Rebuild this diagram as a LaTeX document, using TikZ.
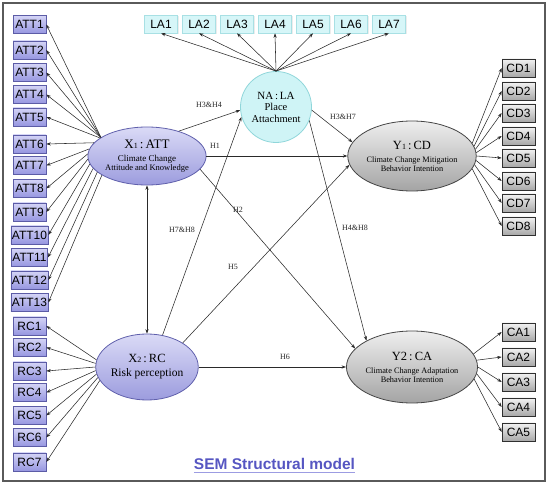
\documentclass[tikz,border=0pt]{standalone}
\usepackage{fontspec}
\setmainfont{Liberation Serif}
\setsansfont{Liberation Sans}
\usetikzlibrary{shapes.geometric,arrows.meta,shadows}
\definecolor{linec}{HTML}{2A2A2A}
\definecolor{attt}{HTML}{D4D4F6}
\definecolor{attbot}{HTML}{9696E0}
\definecolor{attb}{HTML}{5C5CA6}
\definecolor{laf}{HTML}{D6F6F8}
\definecolor{lab}{HTML}{A8E0E4}
\definecolor{cdt}{HTML}{F2F2F2}
\definecolor{cdbot}{HTML}{A8A8A8}
\definecolor{cdb}{HTML}{303030}
\definecolor{latpt}{HTML}{DADAF6}
\definecolor{latpbot}{HTML}{9C9CDE}
\definecolor{latpb}{HTML}{6060AC}
\definecolor{latgt}{HTML}{EEEEEE}
\definecolor{latgbot}{HTML}{A4A4A4}
\definecolor{latgb}{HTML}{454545}
\definecolor{naf}{HTML}{CFF4F6}
\definecolor{nab}{HTML}{90D6DA}
\definecolor{titlec}{HTML}{5656C2}
\definecolor{titleu}{HTML}{9C9CE2}
\definecolor{framec}{HTML}{5A5A5A}
\begin{document}
\begin{tikzpicture}[x=1pt,y=-1pt,
  boxbase/.style={minimum width=33pt, minimum height=18pt, inner sep=1pt, line width=0.6pt,
    font=\sffamily\fontsize{12}{12}\selectfont},
  attbox/.style={boxbase, draw=attb, top color=attt, bottom color=attbot},
  labox/.style={boxbase, draw=lab, fill=laf, drop shadow={opacity=0.15, shadow xshift=1pt, shadow yshift=-1pt}},
  cdbox/.style={boxbase, draw=cdb, top color=cdt, bottom color=cdbot},
  lat/.style={ellipse, inner sep=0pt, line width=0.8pt, align=center, font=\fontsize{9}{10}\selectfont},
  purlat/.style={lat, draw=latpb, top color=latpt, bottom color=latpbot},
  greylat/.style={lat, draw=latgb, top color=latgt, bottom color=latgbot},
  ar/.style={-{Stealth[length=4.5pt,width=3.2pt]}, draw=linec, line width=0.55pt},
  hlab/.style={font=\fontsize{8}{8}\selectfont, inner sep=0.5pt, text=black!85},
  frame/.style={draw=framec, line width=1.1pt}
]
\useasboundingbox (0,0) rectangle (550,484);
\draw[frame] (3,3) rectangle (545,481);

% latent variables
\node[purlat, minimum width=104pt, minimum height=58pt] (X1) at (147,156)
  {{\fontsize{13}{13}\selectfont X{\fontsize{8}{8}\selectfont 1}\,:\,ATT}\\[3pt]
   Climate Change\\[-1pt]{\fontsize{8.5}{9}\selectfont Attitude and Knowledge}};
\node[purlat, minimum width=100pt, minimum height=66pt] (X2) at (147,367)
  {{\fontsize{12.5}{13}\selectfont X{\fontsize{8}{8}\selectfont 2}\,:\,RC}\\[4pt]
   {\fontsize{11.5}{12}\selectfont Risk perception}};
\node[greylat, minimum width=100pt, minimum height=70pt] (Y1) at (412,156)
  {{\fontsize{12.5}{13}\selectfont Y{\fontsize{8}{8}\selectfont 1}\,:\,CD}\\[3pt]
   {\fontsize{8.3}{9}\selectfont Climate Change Mitigation}\\[-1pt]{\fontsize{8.3}{9}\selectfont Behavior Intention}};
\node[greylat, minimum width=98pt, minimum height=72pt] (Y2) at (412,367)
  {{\fontsize{12.5}{13}\selectfont Y2\,:\,CA}\\[3pt]
   {\fontsize{8.3}{9}\selectfont Climate Change Adaptation}\\[-1pt]{\fontsize{8.3}{9}\selectfont Behavior Intention}};
\node[circle, draw=nab, fill=naf, line width=0.8pt, minimum size=71pt, inner sep=0pt, align=center,
  font=\fontsize{10.5}{11.5}\selectfont] (NA) at (276,107)
  {{\fontsize{11}{12}\selectfont NA\,:\,LA}\\Place\\Attachment};

% ATT indicators
\foreach \i/\y/\a in {1/24.5/158,2/50/158,3/72.5/158,4/94.5/158,5/117/159,6/144/166,7/165.5/173,
  8/188.5/178,9/212/183,10/235/188,11/257.5/193,12/280/198,13/302.5/203}{
  \node[attbox] (ATT\i) at (29.5,\y) {ATT\i};
  \draw[ar] (X1.\a) -- (ATT\i.east);
}
% RC indicators
\foreach \i/\y/\a in {1/326/172,2/347.5/176,3/371/180,4/392.5/184,5/415.5/188,6/437.5/192,7/462/196}{
  \node[attbox] (RC\i) at (29.5,\y) {RC\i};
  \draw[ar] (X2.\a) -- (RC\i.east);
}
% LA indicators
\foreach \i in {1,...,7}{
  \node[labox] (LA\i) at ({161+38*(\i-1)},24) {LA\i};
  \draw[ar] (NA.north) -- (LA\i.south);
}
% CD indicators
\foreach \i/\y/\a in {1/68/12,2/91/9,3/113/6,4/136/3,5/158/0,6/181/-4,7/203/-8,8/226/-12}{
  \node[cdbox] (CD\i) at (518.5,\y) {CD\i};
  \draw[ar] (Y1.\a) -- (CD\i.west);
}
% CA indicators
\foreach \i/\y/\a in {1/332/12,2/357/6,3/382/0,4/407/-6,5/432/-11}{
  \node[cdbox] (CA\i) at (518.5,\y) {CA\i};
  \draw[ar] (Y2.\a) -- (CA\i.west);
}

% structural paths
\draw[ar] (X1.38) -- (NA.185);
\draw[ar] (X2.64) -- (NA.196);
\draw[ar] (NA.-5) -- (Y1.167);
\draw[ar] (X1.east) -- (Y1.west);
\draw[ar] (X1.-14) -- (Y2.162);
\draw[ar] (X2.34) -- (Y1.188);
\draw[ar] (NA.-22) -- (Y2.150);
\draw[ar] (X2.east) -- (Y2.west);
\draw[{Stealth[length=4.5pt,width=3.2pt]}-{Stealth[length=4.5pt,width=3.2pt]}, draw=linec, line width=0.55pt]
  (X1.south) -- (X2.north);

% labels
\node[hlab] (lH34) at (209,105) {H3\&H4};
\node[hlab] (lH78) at (182,230) {H7\&H8};
\node[hlab] (lH37) at (343,117) {H3\&H7};
\node[hlab] (lH1) at (215,146) {H1};
\node[hlab] (lH2) at (238,210) {H2};
\node[hlab] (lH5) at (233,267) {H5};
\node[hlab] (lH48) at (355,228) {H4\&H8};
\node[hlab] (lH6) at (285,357) {H6};

% title
\node[anchor=base, inner sep=0pt, text=titlec, font=\sffamily\bfseries\fontsize{15.5}{16}\selectfont]
  (title) at (274.5,470) {SEM Structural model};
\draw[titleu, line width=1pt] ([yshift=-2.5pt]title.base west) -- ([yshift=-2.5pt]title.base east);
\end{tikzpicture}
\end{document}
